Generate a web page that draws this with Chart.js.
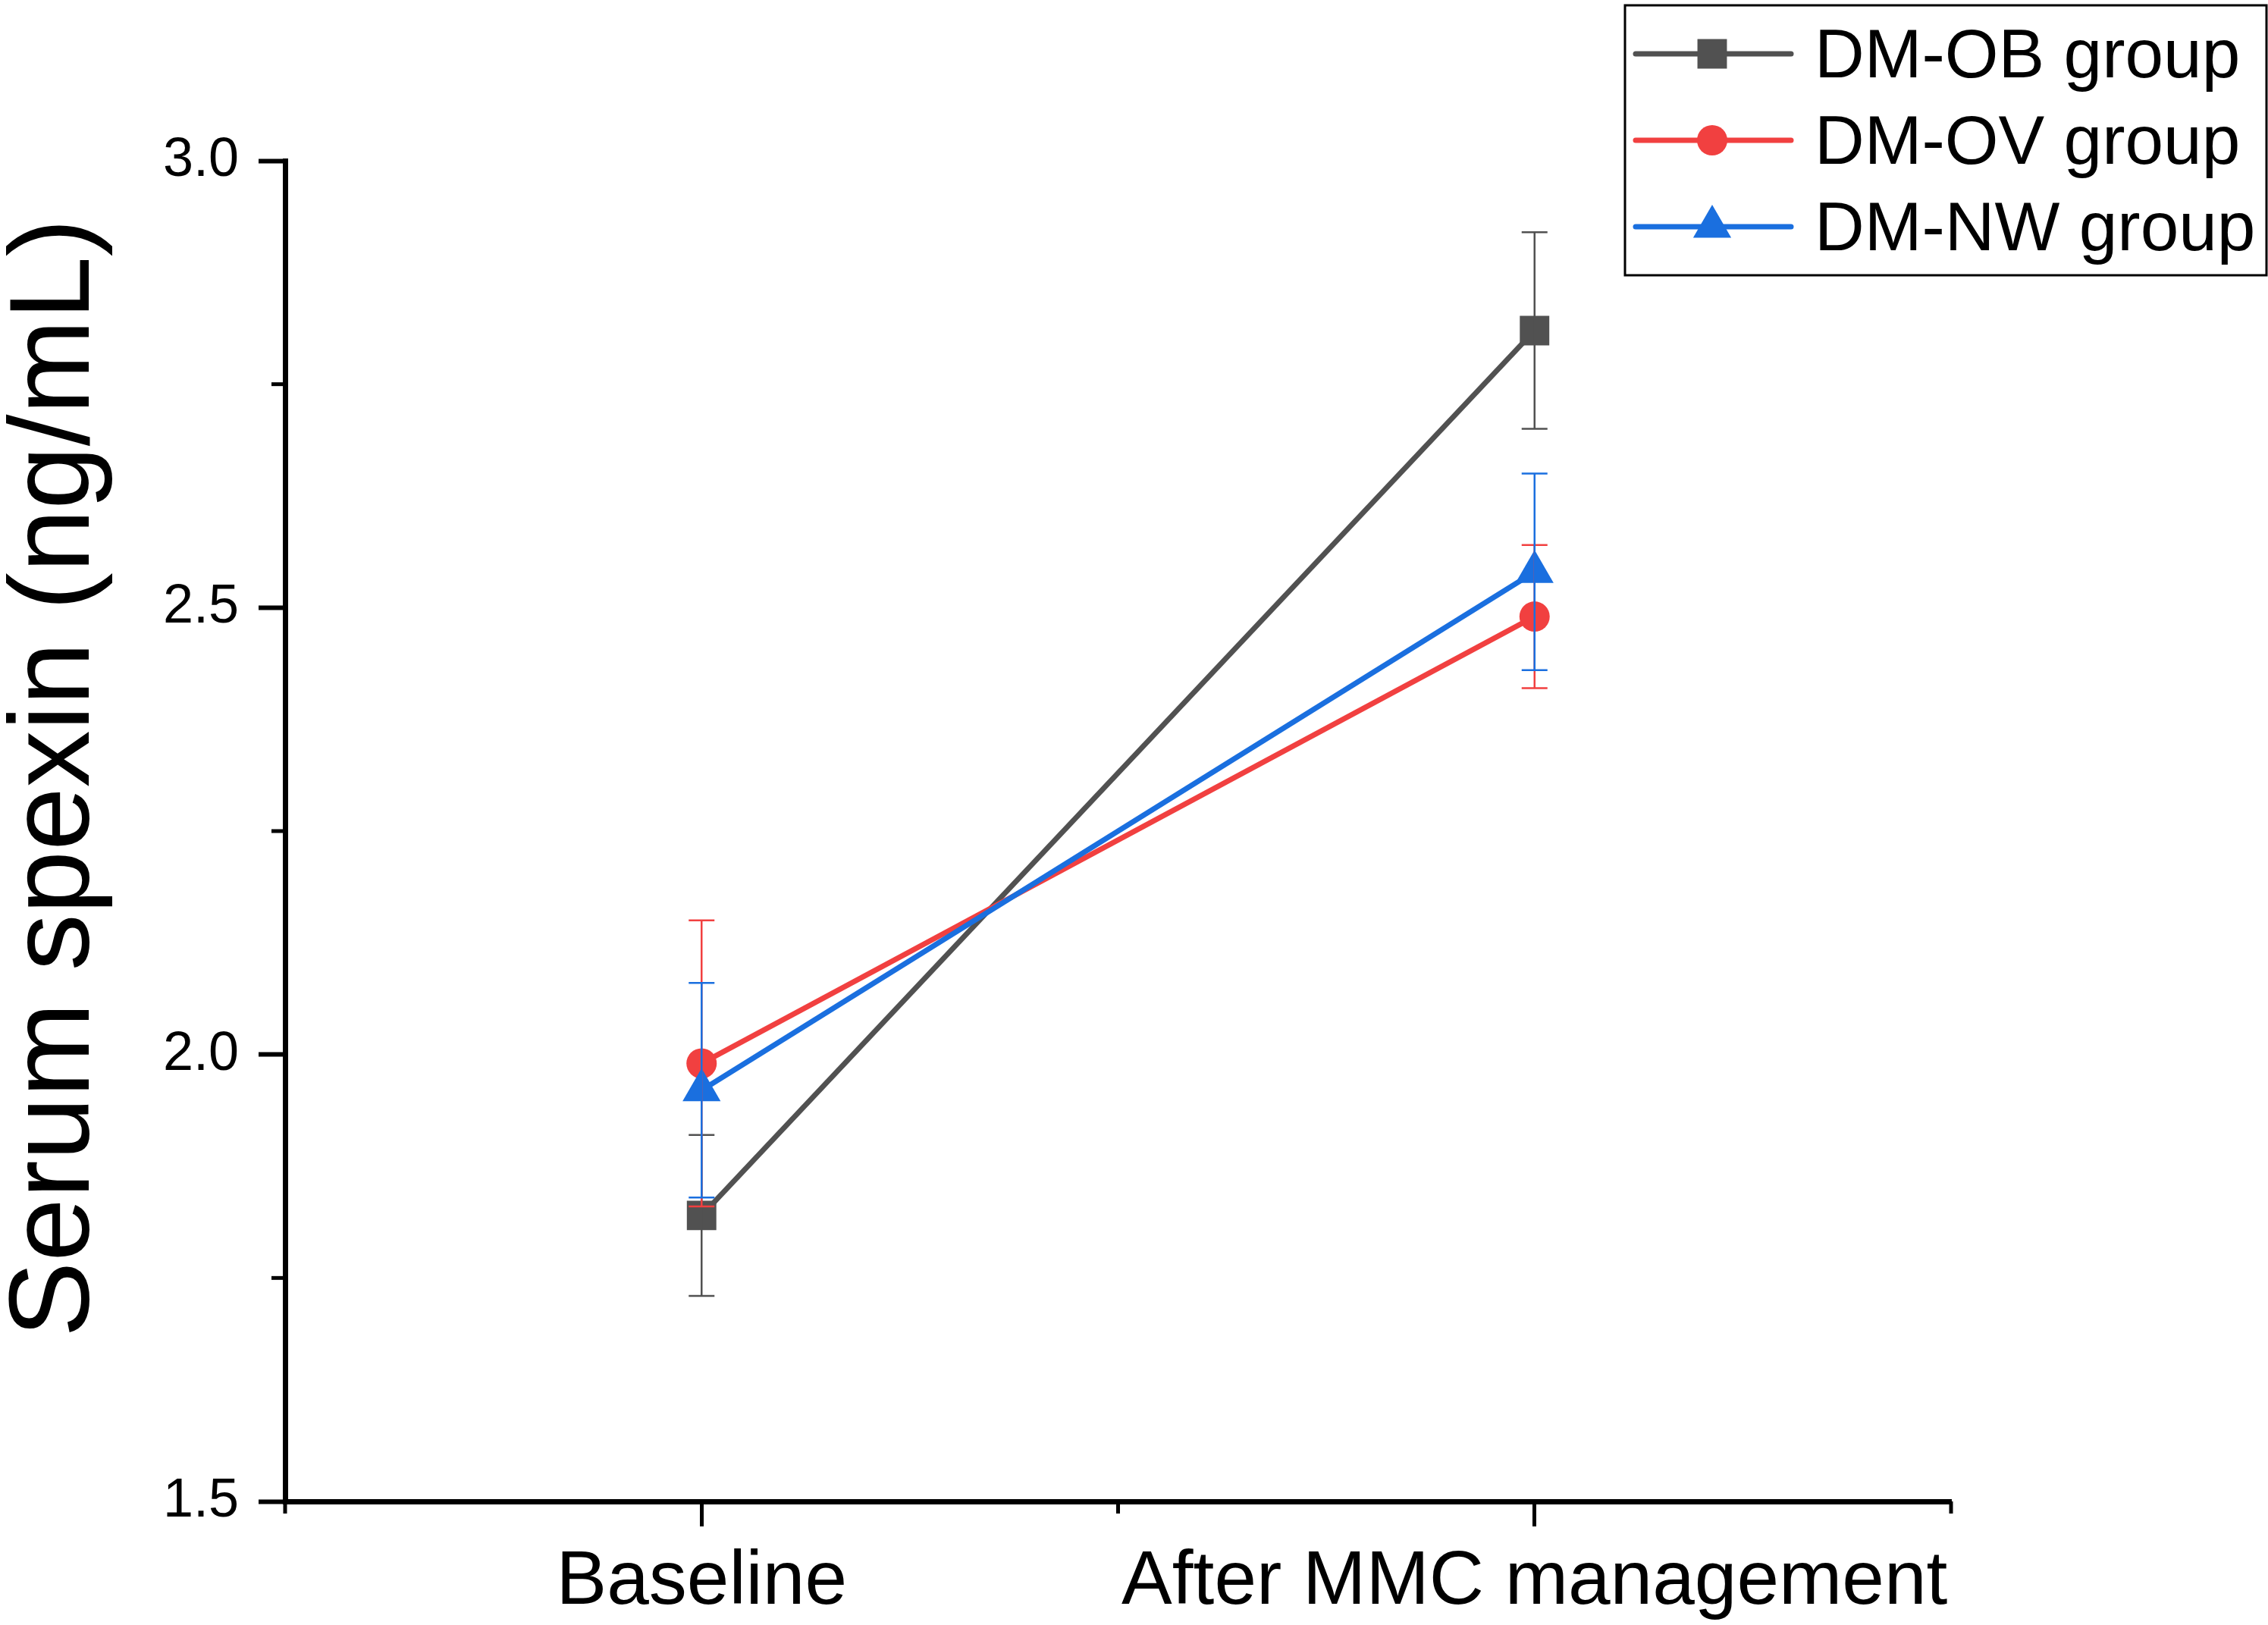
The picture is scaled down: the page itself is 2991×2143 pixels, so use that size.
<!DOCTYPE html>
<html>
<head>
<meta charset="utf-8">
<script src="https://cdn.jsdelivr.net/npm/chart.js@4.4.1/dist/chart.umd.min.js"></script>
<style>
    html, body { margin: 0; padding: 0; background: #ffffff; }
    #wrap { width: 2991px; height: 2143px; position: relative; }
</style>
</head>
<body>
<div id="wrap"><canvas id="spexinChart"></canvas></div>
<script>
// Serum spexin before / after MMC management

const categories = ['Baseline', 'After MMC management'];
const seriesNames = ['DM-OB group', 'DM-OV group', 'DM-NW group'];

const obMean = [1.82, 2.81];
const obErr = [0.09, 0.11];
const ovMean = [1.99, 2.49];
const ovErr = [0.16, 0.08];
const nwMean = [1.96, 2.54];
const nwErr = [0.12, 0.11];

const yMajorTicks = [1.5, 2.0, 2.5, 3.0];
const yMinorTicks = [1.75, 2.25, 2.75];
const yTitle = 'Serum spexin (ng/mL)';

const FONT = 'Arial, "Liberation Sans", sans-serif';
const colors = ['#515151', '#F14040', '#1A6FDF'];
const markers = ['rect', 'circle', 'triangle'];
const markerRadius = [27.5, 20, 29];
const errors = [obErr, ovErr, nwErr];

function drawMarker(ctx, style, x, y, r, color) {
    ctx.save();
    ctx.fillStyle = color;
    ctx.beginPath();
    if (style === 'rect') {
        const s = Math.SQRT1_2 * r;
        ctx.rect(x - s, y - s, 2 * s, 2 * s);
    } else if (style === 'circle') {
        ctx.arc(x, y, r, 0, Math.PI * 2);
    } else {
        let rad = 0;
        ctx.moveTo(x + Math.sin(rad) * r, y - Math.cos(rad) * r);
        rad += Math.PI * 2 / 3;
        ctx.lineTo(x + Math.sin(rad) * r, y - Math.cos(rad) * r);
        rad += Math.PI * 2 / 3;
        ctx.lineTo(x + Math.sin(rad) * r, y - Math.cos(rad) * r);
        ctx.closePath();
    }
    ctx.fill();
    ctx.restore();
}

// error bars drawn on top of the markers
const errorBarPlugin = {
    id: 'errorBars',
    afterDatasetsDraw(chart) {
        const ctx = chart.ctx;
        const yScale = chart.scales.y;
        chart.data.datasets.forEach((ds, i) => {
            const meta = chart.getDatasetMeta(i);
            ctx.save();
            ctx.strokeStyle = colors[i];
            ctx.lineWidth = 2.5;
            meta.data.forEach((pt, j) => {
                const v = ds.data[j];
                const e = errors[i][j];
                const top = yScale.getPixelForValue(v + e);
                const bot = yScale.getPixelForValue(v - e);
                ctx.beginPath();
                ctx.moveTo(pt.x, top);
                ctx.lineTo(pt.x, bot);
                ctx.moveTo(pt.x - 17, top);
                ctx.lineTo(pt.x + 17, top);
                ctx.moveTo(pt.x - 17, bot);
                ctx.lineTo(pt.x + 17, bot);
                ctx.stroke();
            });
            ctx.restore();
        });
    }
};

// minor ticks, y title and the boxed legend
const decorPlugin = {
    id: 'decor',
    afterDraw(chart) {
        const ctx = chart.ctx;
        const area = chart.chartArea;
        const xs = chart.scales.x;
        const ys = chart.scales.y;

        ctx.save();
        ctx.strokeStyle = '#000';
        ctx.lineWidth = 5;
        yMinorTicks.forEach(v => {
            const py = ys.getPixelForValue(v);
            ctx.beginPath();
            ctx.moveTo(area.left - 18, py);
            ctx.lineTo(area.left, py);
            ctx.stroke();
        });
        const mid = (xs.getPixelForValue(0) + xs.getPixelForValue(1)) / 2;
        [area.left, mid, area.right].forEach(px => {
            ctx.beginPath();
            ctx.moveTo(px, area.bottom);
            ctx.lineTo(px, area.bottom + 16);
            ctx.stroke();
        });

        // y axis title
        ctx.fillStyle = '#000';
        ctx.font = '150px ' + FONT;
        ctx.translate(117, 1026);
        ctx.rotate(-Math.PI / 2);
        ctx.textAlign = 'center';
        ctx.textBaseline = 'alphabetic';
        ctx.fillText(yTitle, 0, 0);
        ctx.restore();

        // legend
        ctx.save();
        ctx.strokeStyle = '#000';
        ctx.lineWidth = 3;
        ctx.strokeRect(2143, 7, 846, 356);
        ctx.font = '91px ' + FONT;
        ctx.textAlign = 'left';
        ctx.textBaseline = 'alphabetic';
        const rowY = [71, 185, 299];
        seriesNames.forEach((name, i) => {
            const ly = rowY[i];
            ctx.strokeStyle = colors[i];
            ctx.lineWidth = 7;
            ctx.lineCap = 'round';
            ctx.beginPath();
            ctx.moveTo(2157, ly);
            ctx.lineTo(2362, ly);
            ctx.stroke();
            drawMarker(ctx, markers[i], 2258, ly, markerRadius[i], colors[i]);
            ctx.fillStyle = '#000';
            ctx.fillText(name, 2393, ly + 31);
        });
        ctx.restore();
    }
};

const means = [obMean, ovMean, nwMean];
const datasets = seriesNames.map((name, i) => ({
    label: name,
    data: means[i],
    borderColor: colors[i],
    backgroundColor: colors[i],
    borderWidth: 7,
    pointStyle: markers[i],
    pointRadius: markerRadius[i],
    pointHoverRadius: markerRadius[i],
    pointBorderWidth: 0,
    pointBackgroundColor: colors[i],
    tension: 0,
    order: 3 - i
}));

new Chart(document.getElementById('spexinChart'), {
    type: 'line',
    data: { labels: categories, datasets: datasets },
    options: {
        responsive: true,
        maintainAspectRatio: false,
        animation: false,
        devicePixelRatio: 1,
        layout: { padding: { top: 212, right: 418, left: 0, bottom: 0 } },
        plugins: {
            legend: { display: false },
            tooltip: { enabled: false }
        },
        scales: {
            x: {
                type: 'category',
                offset: true,
                border: { display: true, width: 7, color: '#000' },
                grid: {
                    offset: false,
                    drawOnChartArea: false,
                    drawTicks: true,
                    tickLength: 33,
                    tickWidth: 5,
                    tickColor: '#000'
                },
                ticks: {
                    color: '#000',
                    padding: 14,
                    maxRotation: 0,
                    autoSkip: false,
                    font: { family: FONT, size: 100 }
                },
                afterFit(scale) { scale.height = 163; }
            },
            y: {
                min: 1.5,
                max: 3.0,
                border: { display: true, width: 7, color: '#000' },
                grid: {
                    drawOnChartArea: false,
                    drawTicks: true,
                    tickLength: 35,
                    tickWidth: 6,
                    tickColor: '#000'
                },
                afterBuildTicks(scale) {
                    scale.ticks = yMajorTicks.map(v => ({ value: v }));
                },
                ticks: {
                    color: '#000',
                    padding: 26,
                    font: { family: FONT, size: 72 },
                    callback: (value) => Number(value).toFixed(1)
                },
                afterFit(scale) { scale.width = 376; }
            }
        }
    },
    plugins: [errorBarPlugin, decorPlugin]
});
</script>
</body>
</html>
